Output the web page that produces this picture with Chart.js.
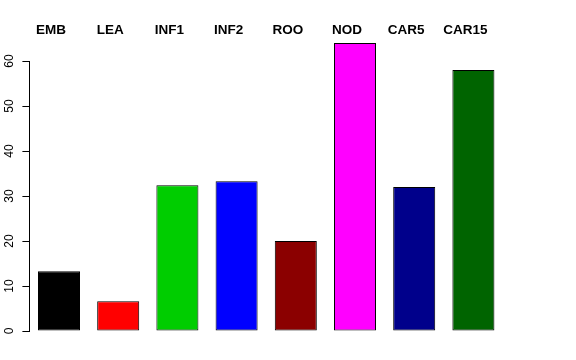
<!DOCTYPE html>
<html>
<head>
<meta charset="utf-8">
<script src="https://cdn.jsdelivr.net/npm/chart.js@4/dist/chart.umd.min.js"></script>
<style>
  html, body { margin: 0; padding: 0; background: #fff; }
  #wrap { width: 576px; height: 360px; }
</style>
</head>
<body>
<div id="wrap"><canvas id="c" width="576" height="360"></canvas></div>
<script>
const categories = ["EMB", "LEA", "INF1", "INF2", "ROO", "NOD", "CAR5", "CAR15"];
const values = [13.3, 6.6, 32.4, 33.3, 20.0, 64.0, 32.0, 58.0];
const barColors = ["#000000", "#FF0000", "#00CD00", "#0000FF", "#8B0000", "#FF00FF", "#00008B", "#006400"];
const yTicks = [0, 10, 20, 30, 40, 50, 60];

new Chart(document.getElementById('c'), {
  type: 'bar',
  data: {
    labels: categories,
    datasets: [{
      data: values,
      backgroundColor: barColors,
      borderColor: '#000000',
      borderWidth: 1,
      borderSkipped: false,
      barPercentage: 0.71,
      categoryPercentage: 1.0,
      clip: false
    }]
  },
  options: {
    responsive: false,
    animation: false,
    devicePixelRatio: 1,
    layout: { padding: { left: 0, right: 73, top: 0, bottom: 29 } },
    plugins: { legend: { display: false }, tooltip: { enabled: false } },
    scales: {
      x: {
        position: 'top',
        grid: { display: false },
        border: { display: false },
        ticks: {
          color: '#000',
          font: { family: 'Liberation Sans', size: 13.5, weight: 'bold' },
          padding: 15,
          labelOffset: -8,
          maxRotation: 0,
          minRotation: 0
        },
        afterFit: (s) => { s.height = 61; }
      },
      y: {
        min: 0,
        max: 60,
        afterBuildTicks: (s) => { s.ticks = yTicks.map(v => ({ value: v })); },
        grid: { display: true, drawOnChartArea: false, drawTicks: true, tickLength: 7, color: '#000', tickColor: '#000' },
        border: { display: true, color: '#000', width: 1 },
        ticks: {
          color: '#000',
          font: { family: 'Liberation Sans', size: 12 },
          minRotation: 90,
          maxRotation: 90,
          crossAlign: 'center',
          padding: 6
        },
        afterFit: (s) => { s.width = 29.4; }
      }
    }
  }
});
</script>
</body>
</html>
